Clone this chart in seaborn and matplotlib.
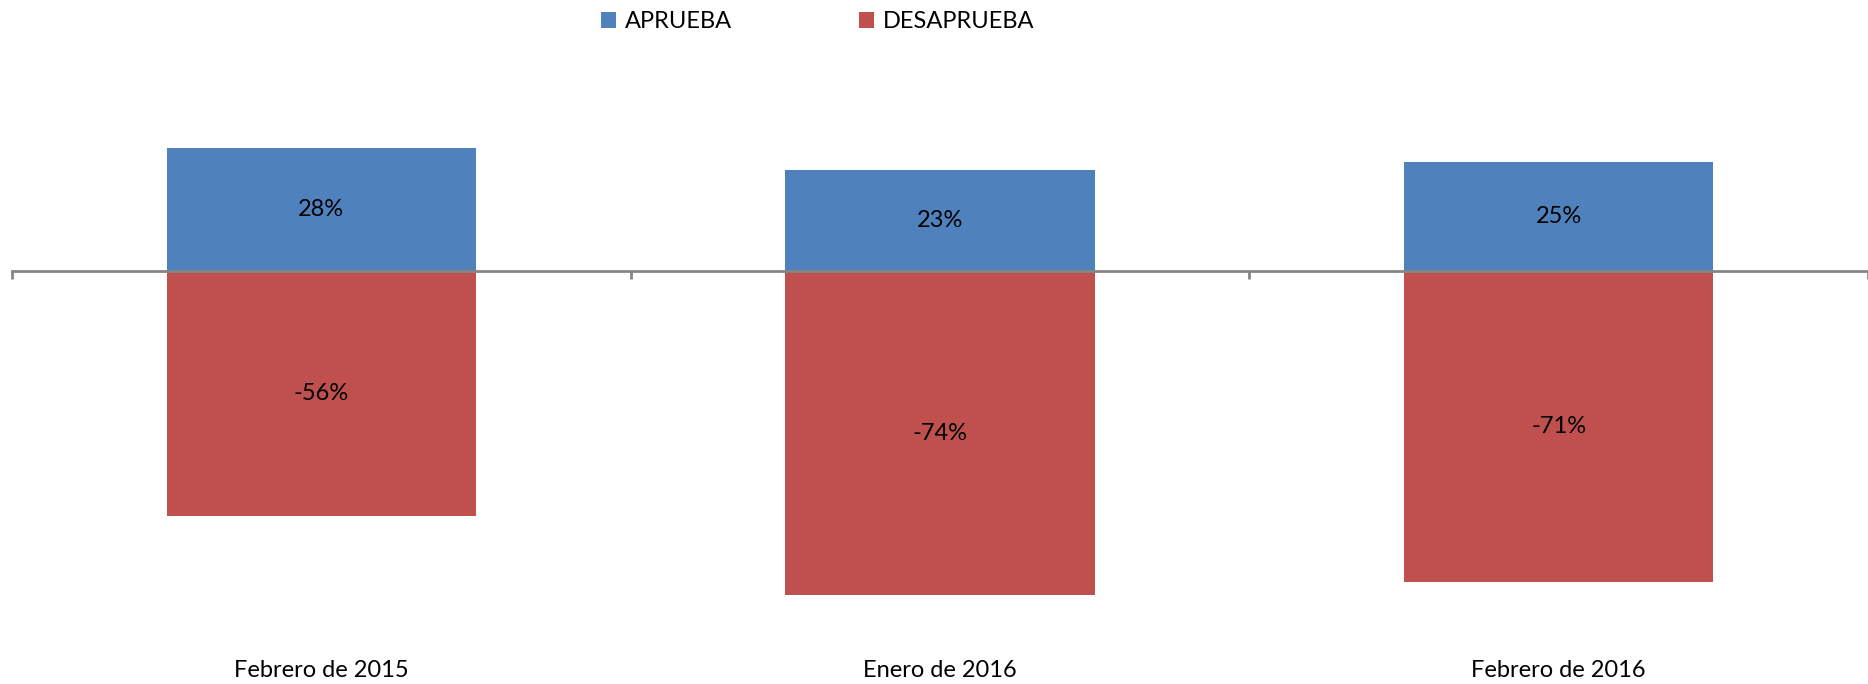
import matplotlib
matplotlib.use("Agg")
import matplotlib.pyplot as plt
import seaborn as sns
import pandas as pd

# datos del grafico
meses = ["Febrero de 2015", "Enero de 2016", "Febrero de 2016"]
aprueba = [28, 23, 25]
desaprueba = [-56, -74, -71]
series = ["APRUEBA", "DESAPRUEBA"]
colores = ["#4F81BD", "#C0504D"]

df = pd.DataFrame({
    "mes": meses * 2,
    "valor": aprueba + desaprueba,
    "serie": [series[0]] * len(meses) + [series[1]] * len(meses),
})

sns.set_style("white")
plt.rcParams["font.family"] = ["Lato", "DejaVu Sans"]

W, H = 1868, 684
fig = plt.figure(figsize=(W / 100, H / 100), dpi=100)
# eje: y=0 en 271 px, 4.38 px por punto porcentual
ax = fig.add_axes([12 / W, 34 / H, 1856 / W, 590 / H])

sns.barplot(data=df, x="mes", y="valor", hue="serie", dodge=False, width=0.5,
            palette=colores, saturation=1, linewidth=0, ax=ax, legend=True)

ax.set_xlim(-0.5, len(meses) - 0.5)
ax.set_ylim(-86.5, 48.2)
ax.set_xlabel("")
ax.set_ylabel("")
ax.set_yticks([])

for s in ["top", "right", "left"]:
    ax.spines[s].set_visible(False)
ax.spines["bottom"].set_position(("data", 0))
ax.spines["bottom"].set_color("#868686")
ax.spines["bottom"].set_linewidth(2)
ax.spines["bottom"].set_zorder(5)

ax.set_xticks(range(len(meses)))
ax.set_xticklabels(meses, fontsize=17, color="black")
ax.tick_params(axis="x", which="major", length=0, pad=280)
ax.set_xticks([i - 0.5 for i in range(len(meses) + 1)], minor=True)
ax.tick_params(axis="x", which="minor", bottom=True, length=6, width=2,
               color="#868686", direction="out")

for cont in ax.containers:
    labels = [f"{int(round(b.get_height()))}%" for b in cont]
    ax.bar_label(cont, labels=labels, label_type="center", fontsize=17,
                 color="black")

leg = ax.legend(loc="upper center", bbox_to_anchor=(0.434, 1.0 + 60 / 590 - 0.003),
                ncol=2, frameon=False, fontsize=17, handlelength=0.65,
                handleheight=0.65, handletextpad=0.35, columnspacing=5.4,
                borderaxespad=0)
for t in leg.get_texts():
    t.set_color("black")

fig.savefig("out.png", dpi=100)
